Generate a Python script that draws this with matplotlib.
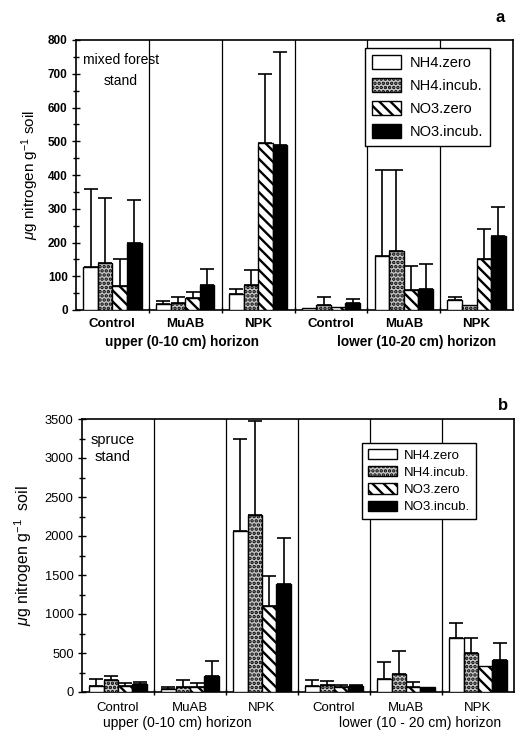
import numpy as np
import matplotlib
matplotlib.use("Agg")
import matplotlib.pyplot as plt
from matplotlib.ticker import MultipleLocator, FixedLocator

plt.rcParams['font.family'] = ['Liberation Sans', 'DejaVu Sans']
plt.rcParams['mathtext.fontset'] = 'custom'
plt.rcParams['mathtext.rm'] = 'Liberation Sans'
plt.rcParams['mathtext.it'] = 'Liberation Sans:italic'
plt.rcParams['hatch.linewidth'] = 1.7

groups = ["Control", "MuAB", "NPK", "Control", "MuAB", "NPK"]
series = ["NH4.zero", "NH4.incub.", "NO3.zero", "NO3.incub."]

# panel a: mixed forest stand (mean, top of error bar)
a_nh4_zero = [128, 18, 46, 5, 160, 30]
a_nh4_zero_top = [360, 28, 62, 5, 415, 38]
a_nh4_incub = [138, 20, 74, 15, 175, 15]
a_nh4_incub_top = [332, 38, 120, 40, 415, 15]
a_no3_zero = [71, 35, 496, 8, 60, 150]
a_no3_zero_top = [150, 52, 698, 8, 130, 240]
a_no3_incub = [200, 73, 488, 20, 62, 220]
a_no3_incub_top = [325, 122, 765, 33, 135, 305]

# panel b: spruce stand
b_nh4_zero = [80, 40, 2060, 80, 170, 690]
b_nh4_zero_top = [170, 70, 3250, 150, 390, 880]
b_nh4_incub = [150, 60, 2270, 95, 230, 500]
b_nh4_incub_top = [210, 150, 3470, 140, 520, 690]
b_no3_zero = [80, 70, 1100, 70, 60, 330]
b_no3_zero_top = [120, 120, 1490, 90, 130, 330]
b_no3_incub = [100, 200, 1380, 80, 70, 410]
b_no3_incub_top = [130, 400, 1980, 90, 70, 630]

a_vals = [a_nh4_zero, a_nh4_incub, a_no3_zero, a_no3_incub]
a_tops = [a_nh4_zero_top, a_nh4_incub_top, a_no3_zero_top, a_no3_incub_top]
b_vals = [b_nh4_zero, b_nh4_incub, b_no3_zero, b_no3_incub]
b_tops = [b_nh4_zero_top, b_nh4_incub_top, b_no3_zero_top, b_no3_incub_top]

styles = [
    dict(facecolor='white', hatch=None),
    dict(facecolor='0.78', hatch='....'),
    dict(facecolor='white', hatch='\\\\\\'),
    dict(facecolor='black', hatch=None),
]

fig = plt.figure(figsize=(5.15, 7.32), dpi=100)
ax_a = fig.add_axes([76/515, (732-310)/732, (513-76)/515, 270/732])
ax_b = fig.add_axes([82/515, (732-692)/732, (514-82)/515, 273/732])


def draw(ax, vals, tops, ymax, major, minor, fs_x, fs_y, bold, xpad):
    x = np.arange(len(groups)) + 0.5
    w = 0.2
    offs = [-0.3, -0.1, 0.1, 0.3]
    handles = []
    for v, t, st, off, name in zip(vals, tops, styles, offs, series):
        v = np.array(v, float)
        t = np.array(t, float)
        b = ax.bar(x + off, v, width=w, facecolor=st['facecolor'],
                   hatch=st['hatch'], edgecolor='black', linewidth=1.0,
                   label=name, zorder=3)
        handles.append(b)
        m = t > v
        ax.errorbar((x + off)[m], v[m], yerr=[np.zeros(m.sum()), (t - v)[m]],
                    fmt='none', ecolor='black', elinewidth=1.2, capsize=4.8,
                    capthick=1.2, zorder=2)
    for bx in range(1, len(groups)):
        ax.axvline(bx, color='black', lw=0.9, zorder=1)
    ax.set_xlim(0, len(groups))
    ax.set_ylim(0, ymax)
    ax.set_xticks(x)
    ax.set_xticklabels(groups, fontsize=fs_x,
                       fontweight='bold' if bold else 'normal')
    ax.tick_params(axis='x', which='major', length=0, pad=xpad)
    ax.xaxis.set_minor_locator(FixedLocator(np.arange(1, len(groups))))
    ax.tick_params(axis='x', which='minor', length=4, direction='inout', width=1)
    ax.yaxis.set_major_locator(MultipleLocator(major))
    ax.yaxis.set_minor_locator(MultipleLocator(minor))
    ax.tick_params(axis='y', which='major', length=6, direction='inout',
                   width=1, labelsize=fs_y, pad=3)
    ax.tick_params(axis='y', which='minor', length=4, direction='inout', width=1)
    for lab in ax.get_yticklabels():
        lab.set_fontweight('bold' if bold else 'normal')
    for s in ax.spines.values():
        s.set_linewidth(1.2)
    return handles


ha = draw(ax_a, a_vals, a_tops, 800, 100, 50, 9.5, 8.5, True, 6)
hb = draw(ax_b, b_vals, b_tops, 3500, 500, 250, 9.5, 9.3, False, 7)

ax_a.set_ylabel(r'$\mu$g nitrogen g$^{-1}$ soil', fontsize=11, labelpad=5)
ax_b.set_ylabel(r'$\mu$g nitrogen g$^{-1}$  soil', fontsize=11.5, labelpad=8)

ax_a.text(1.45, -0.12, 'upper (0-10 cm) horizon', transform=ax_a.get_xaxis_transform(),
          ha='center', va='center', fontsize=9.8, fontweight='bold')
ax_a.text(4.68, -0.12, 'lower (10-20 cm) horizon', transform=ax_a.get_xaxis_transform(),
          ha='center', va='center', fontsize=9.8, fontweight='bold')
ax_b.text(1.32, -0.112, 'upper (0-10 cm) horizon', transform=ax_b.get_xaxis_transform(),
          ha='center', va='center', fontsize=10)
ax_b.text(4.69, -0.112, 'lower (10 - 20 cm) horizon', transform=ax_b.get_xaxis_transform(),
          ha='center', va='center', fontsize=10)

ax_a.text(0.62, 0.95, 'mixed forest\nstand', transform=ax_a.get_xaxis_transform(),
          ha='center', va='top', fontsize=10, linespacing=1.55)
ax_b.text(0.42, 0.95, 'spruce\nstand', transform=ax_b.get_xaxis_transform(),
          ha='center', va='top', fontsize=10.5, linespacing=1.3)

fig.text(500/515, 1 - 18/732, 'a', fontsize=12, fontweight='bold', ha='center', va='center')
fig.text(503/515, 1 - 405/732, 'b', fontsize=12, fontweight='bold', ha='center', va='center')

leg_a = ax_a.legend(handles=ha, loc='upper left', bbox_to_anchor=(365/515, 1 - 48/732),
                    bbox_transform=fig.transFigure, fontsize=10.5, frameon=True,
                    fancybox=False, edgecolor='black', framealpha=1,
                    handlelength=2.0, handleheight=1.1, labelspacing=0.55,
                    handletextpad=0.55, borderpad=0.5, borderaxespad=0)
leg_a.get_frame().set_linewidth(1.0)
leg_a.set_zorder(5)
leg_b = ax_b.legend(handles=hb, loc='upper left', bbox_to_anchor=(362/515, 1 - 443/732),
                    bbox_transform=fig.transFigure, fontsize=9.5, frameon=True,
                    fancybox=False, edgecolor='black', framealpha=1,
                    handlelength=2.2, handleheight=0.8, labelspacing=0.35,
                    handletextpad=0.5, borderpad=0.45, borderaxespad=0)
leg_b.get_frame().set_linewidth(1.0)
leg_b.set_zorder(5)

fig.savefig('out.png', dpi=100)
